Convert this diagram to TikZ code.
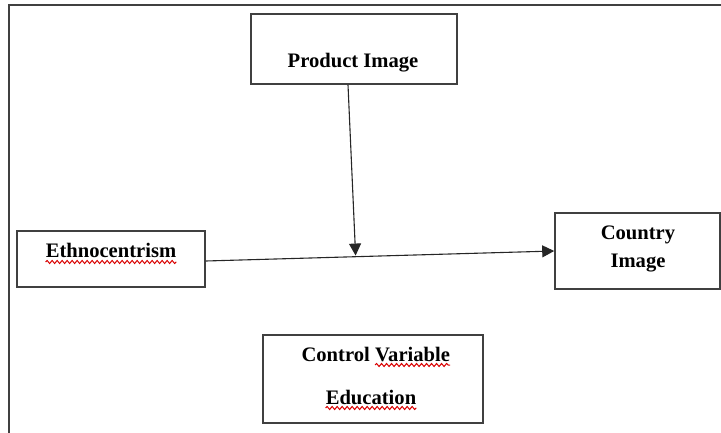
\documentclass[tikz,border=0pt]{standalone}
\usepackage{fontspec}
\setmainfont{Liberation Serif}
\usetikzlibrary{arrows.meta,decorations.pathmorphing,calc}
\definecolor{boxgray}{HTML}{404040}
\tikzset{
  box/.style={draw=boxgray, line width=1.6pt, rectangle, inner sep=0pt},
  lbl/.style={inner sep=0pt, anchor=base, font=\fontsize{20.6}{24}\selectfont\bfseries},
  arr/.style={draw=black!85, line width=1.1pt, -{Triangle[length=12pt,width=12pt]}},
  wavy/.style={draw=red!85!black, line width=1pt, decorate, decoration={snake, amplitude=1.5pt, segment length=5pt}}
}
\begin{document}
\begin{tikzpicture}[x=1pt,y=-1pt]
\useasboundingbox (0,0) rectangle (721,433);
% outer frame
\draw[draw=boxgray, line width=2pt] (9,433) -- (9,5) -- (721,5);
% boxes
\node[box, minimum width=206pt, minimum height=70pt] (prod) at (354,49) {};
\node[box, minimum width=188pt, minimum height=56pt] (eth) at (111,259) {};
\node[box, minimum width=165pt, minimum height=76pt] (ctry) at (637.5,251) {};
\node[box, minimum width=220pt, minimum height=88pt] (ctrl) at (373,379) {};
% labels
\node[lbl] (tprod) at (353,68) {Product Image};
\node[lbl] (teth) at (111,258) {Ethnocentrism};
\node[lbl] (tctry1) at (638,240) {Country};
\node[lbl] (tctry2) at (638,267) {Image};
\node[lbl, anchor=base east] (tctrl1) at (370,361) {Control};
\node[lbl, anchor=base west] (tctrl2) at (375,361) {Variable};
\node[lbl] (tedu) at (371,404) {Education};
% spell-check underlines
\draw[wavy] ([yshift=-4pt]teth.base west) -- ([yshift=-4pt]teth.base east);
\draw[wavy] ([yshift=-4pt]tctrl2.base west) -- ([yshift=-4pt]tctrl2.base east);
\draw[wavy] ([yshift=-4pt]tedu.base west) -- ([yshift=-4pt]tedu.base east);
% connectors
\coordinate (j) at ($(eth.east)!0.43!(ctry.west)$);
\draw[arr] ([yshift=-2pt]eth.east) -- (ctry.west);
\draw[arr] ([xshift=-6pt]prod.south) -- (j);
\end{tikzpicture}
\end{document}
